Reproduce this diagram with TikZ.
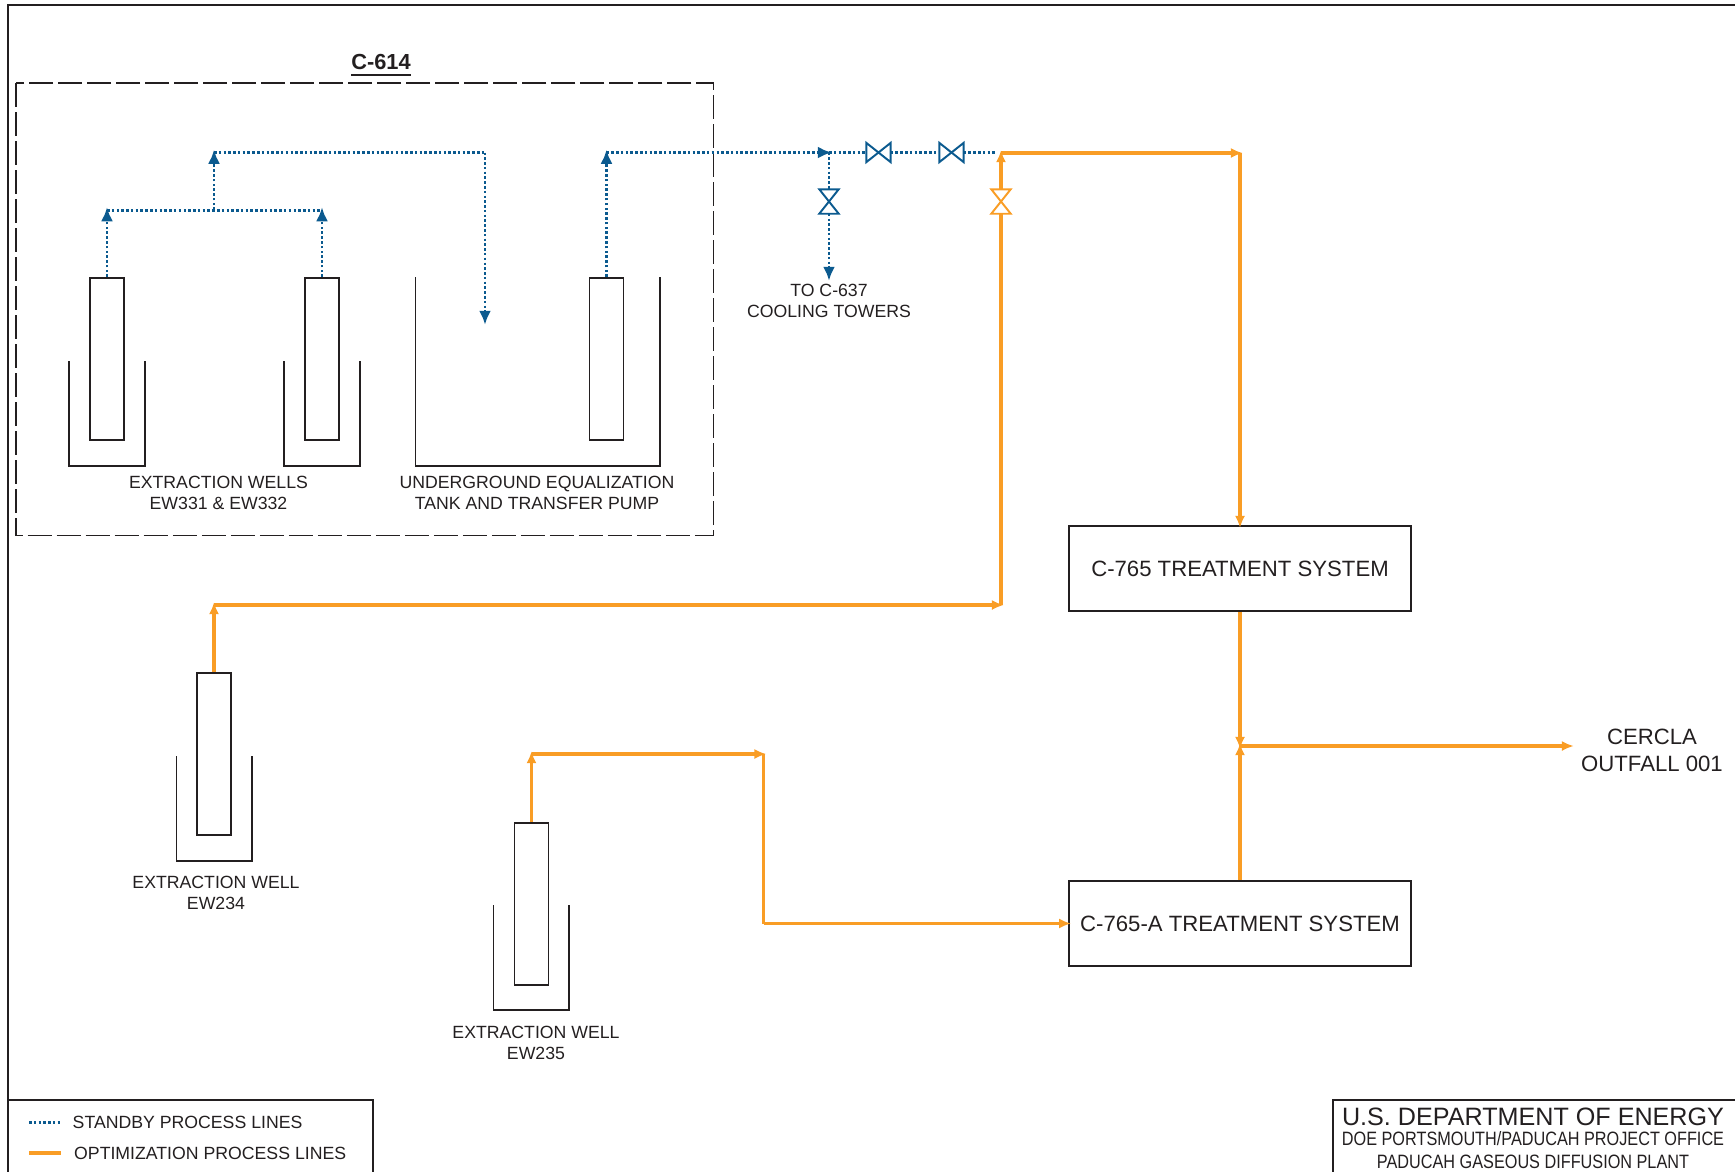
\documentclass[tikz,border=0pt]{standalone}
\usepackage{fontspec}
\setmainfont{Liberation Sans}
\usetikzlibrary{arrows.meta}
\definecolor{standbyblue}{HTML}{0B5A8F}
\definecolor{optorange}{HTML}{F99D25}
\definecolor{inkblack}{HTML}{231F20}
\tikzset{
  plain/.style={draw=inkblack,line width=.55pt},
  wellbox/.style={plain,rectangle,inner sep=0pt,minimum width=.34cm,minimum height=1.62cm},
  sysbox/.style={plain,rectangle,inner sep=0pt,minimum width=3.415cm,minimum height=.85cm,text=inkblack,font=\fontsize{6.3}{8}\selectfont},
  standby/.style={draw=standbyblue,line width=.85pt,dash pattern=on .72pt off .64pt},
  optim/.style={draw=optorange,line width=1.05pt},
  bluetip/.style={shorten >=-.8pt,-{Latex[length=4pt,width=3.4pt]}},
  orangetip/.style={shorten >=-.8pt,-{Latex[length=3.4pt,width=2.9pt]}},
  hvalve/.style={rectangle,inner sep=0pt,minimum width=.23cm,minimum height=.18cm},
  vvalve/.style={rectangle,inner sep=0pt,minimum width=.18cm,minimum height=.23cm},
  lbl/.style={text=inkblack,align=center,font=\fontsize{5.03}{6}\selectfont},
}
\begin{document}
\begin{tikzpicture}[x=.01cm,y=-.01cm]
\useasboundingbox (0,0) rectangle (1735,1172);
% Sheet frame
\draw[plain] (8,1100) -- (8,5) -- (1735,5);
% C-614 area
\draw[plain,dash pattern=on 6.85pt off 1.4pt] (16,83) rectangle (713.5,535.5);
\node[text=inkblack,font=\fontsize{6.2}{8}\selectfont\bfseries] (c614) at (381,66) {\underline{C-614}};
% Wells and pump
\node[wellbox,anchor=north] (ew331) at (107,277) {};
\node[wellbox,anchor=north] (ew332) at (322,277) {};
\node[wellbox,anchor=north] (pump) at (606.5,277) {};
\node[wellbox,anchor=north] (ew234) at (214,672) {};
\node[wellbox,anchor=north] (ew235) at (531.5,822) {};
% Sumps and tank
\draw[plain] (69,361) |- (145,466) -- (145,361);
\draw[plain] (284,361) |- (360,466) -- (360,361);
\draw[plain] (415.5,277) |- (660,466) -- (660,277);
\draw[plain] (176.5,756) |- (252,861) -- (252,756);
\draw[plain] (493.5,905) |- (569,1010) -- (569,905);
% Treatment systems
\node[sysbox] (c765) at (1240,568.5) {C-765 TREATMENT SYSTEM};
\node[sysbox] (c765a) at (1240,923.5) {C-765-A TREATMENT SYSTEM};
% Valves
\node[hvalve] (v1) at (878.5,152.5) {};
\node[hvalve] (v2) at (951.5,152.5) {};
\node[vvalve] (v3) at (829,201.5) {};
\node[vvalve] (v4) at (1001,201.5) {};
\foreach \v in {v1,v2}
  \draw[draw=standbyblue,line width=.55pt] (\v.south west) -- (\v.north east) -- (\v.south east) -- (\v.north west) -- cycle;
\draw[draw=standbyblue,line width=.55pt] (v3.north west) -- (v3.south east) -- (v3.south west) -- (v3.north east) -- cycle;
\draw[draw=optorange,line width=.55pt] (v4.north west) -- (v4.south east) -- (v4.south west) -- (v4.north east) -- cycle;
% Line junctions
\coordinate (top1) at (107,210);
\coordinate (top2) at (322,210);
\coordinate (mid1) at (214,210);
\coordinate (mid2) at (214,152.5);
\coordinate (drop1) at (485,152.5);
\coordinate (drop2) at (485,322);
\coordinate (rise1) at (606.5,152.5);
\coordinate (tee) at (829,152.5);
\coordinate (tower) at (829,278);
\coordinate (corner) at (1001,153);
\coordinate (gap) at (996,152.5);
\coordinate (bend1) at (1240,153);
\coordinate (elbow1) at (214,605);
\coordinate (elbow2) at (1001,605);
\coordinate (elbow3) at (531.5,754);
\coordinate (elbow4) at (763.5,754);
\coordinate (elbow5) at (763.5,923.5);
\coordinate (merge) at (1240,746);
\coordinate (outfall) at (1571,746);
% Standby lines
\draw[standby,bluetip] (ew331.north) -- (top1);
\draw[standby,bluetip] (ew332.north) -- (top2);
\draw[standby] (top1) -- (top2);
\draw[standby,bluetip] (mid1) -- (mid2);
\draw[standby,bluetip] (drop1) -- (drop2);
\draw[standby] (mid2) -- (drop1);
\draw[standby,bluetip] (pump.north) -- (rise1);
\draw[standby,bluetip] (rise1) -- (tee);
\draw[standby] (tee) -- (v1);
\draw[standby] (v1) -- (v2);
\draw[standby] (v2) -- (gap);
\draw[standby] (tee) -- (v3);
\draw[standby,bluetip] (v3) -- (tower);
% Optimization lines
\draw[optim] (elbow2) -- (v4);
\draw[optim,orangetip] (v4) -- (corner);
\draw[optim,orangetip] (corner) -- (bend1);
\draw[optim,orangetip] (bend1) -- (c765.north);
\draw[optim,orangetip] (ew234.north) -- (elbow1);
\draw[optim,orangetip] (elbow1) -- (elbow2);
\draw[optim,orangetip] (ew235.north) -- (elbow3);
\draw[optim,orangetip] (elbow3) -- (elbow4);
\draw[optim] (elbow4) -- (elbow5);
\draw[optim,orangetip] (elbow5) -- (c765a.west);
\draw[optim,orangetip] (c765.south) -- (merge);
\draw[optim,orangetip] (c765a.north) -- (merge);
\draw[optim,orangetip] (merge) -- (outfall);
% Labels
\node[lbl] (lab1) at (218.5,492.5) {EXTRACTION WELLS\\EW331 \& EW332};
\node[lbl] (lab2) at (537,492.5) {UNDERGROUND EQUALIZATION\\TANK AND TRANSFER PUMP};
\node[lbl] (lab3) at (829,300.5) {TO C-637\\COOLING TOWERS};
\node[lbl] (lab4) at (216,893) {EXTRACTION WELL\\EW234};
\node[lbl] (lab5) at (536,1043) {EXTRACTION WELL\\EW235};
\node[lbl,font=\fontsize{6.3}{7.7}\selectfont] (lab6) at (1652,750) {CERCLA\\OUTFALL 001};
% Legend
\draw[plain] (8,1172) |- (373,1100) -- (373,1172);
\coordinate (leg1a) at (29,1122.5);
\coordinate (leg1b) at (61,1122.5);
\coordinate (leg2a) at (29,1153);
\coordinate (leg2b) at (61,1153);
\draw[standby] (leg1a) -- (leg1b);
\draw[optim] (leg2a) -- (leg2b);
\node[lbl,anchor=west,inner sep=0pt] (leg1) at (72,1122.5) {STANDBY PROCESS LINES};
\node[lbl,anchor=west,inner sep=0pt] (leg2) at (73.5,1153) {OPTIMIZATION PROCESS LINES};
% Title block
\draw[plain] (1333,1172) |- (1735,1100);
\node[text=inkblack,font=\fontsize{7.15}{9}\selectfont] (title1) at (1533,1117) {U.S. DEPARTMENT OF ENERGY};
\node[text=inkblack,font=\fontsize{5.5}{7}\selectfont,xscale=.84,transform shape] (title2) at (1533,1138.5) {DOE PORTSMOUTH/PADUCAH PROJECT OFFICE};
\node[text=inkblack,font=\fontsize{5.5}{7}\selectfont,xscale=.84,transform shape] (title3) at (1533,1162) {PADUCAH GASEOUS DIFFUSION PLANT};
\end{tikzpicture}
\end{document}
